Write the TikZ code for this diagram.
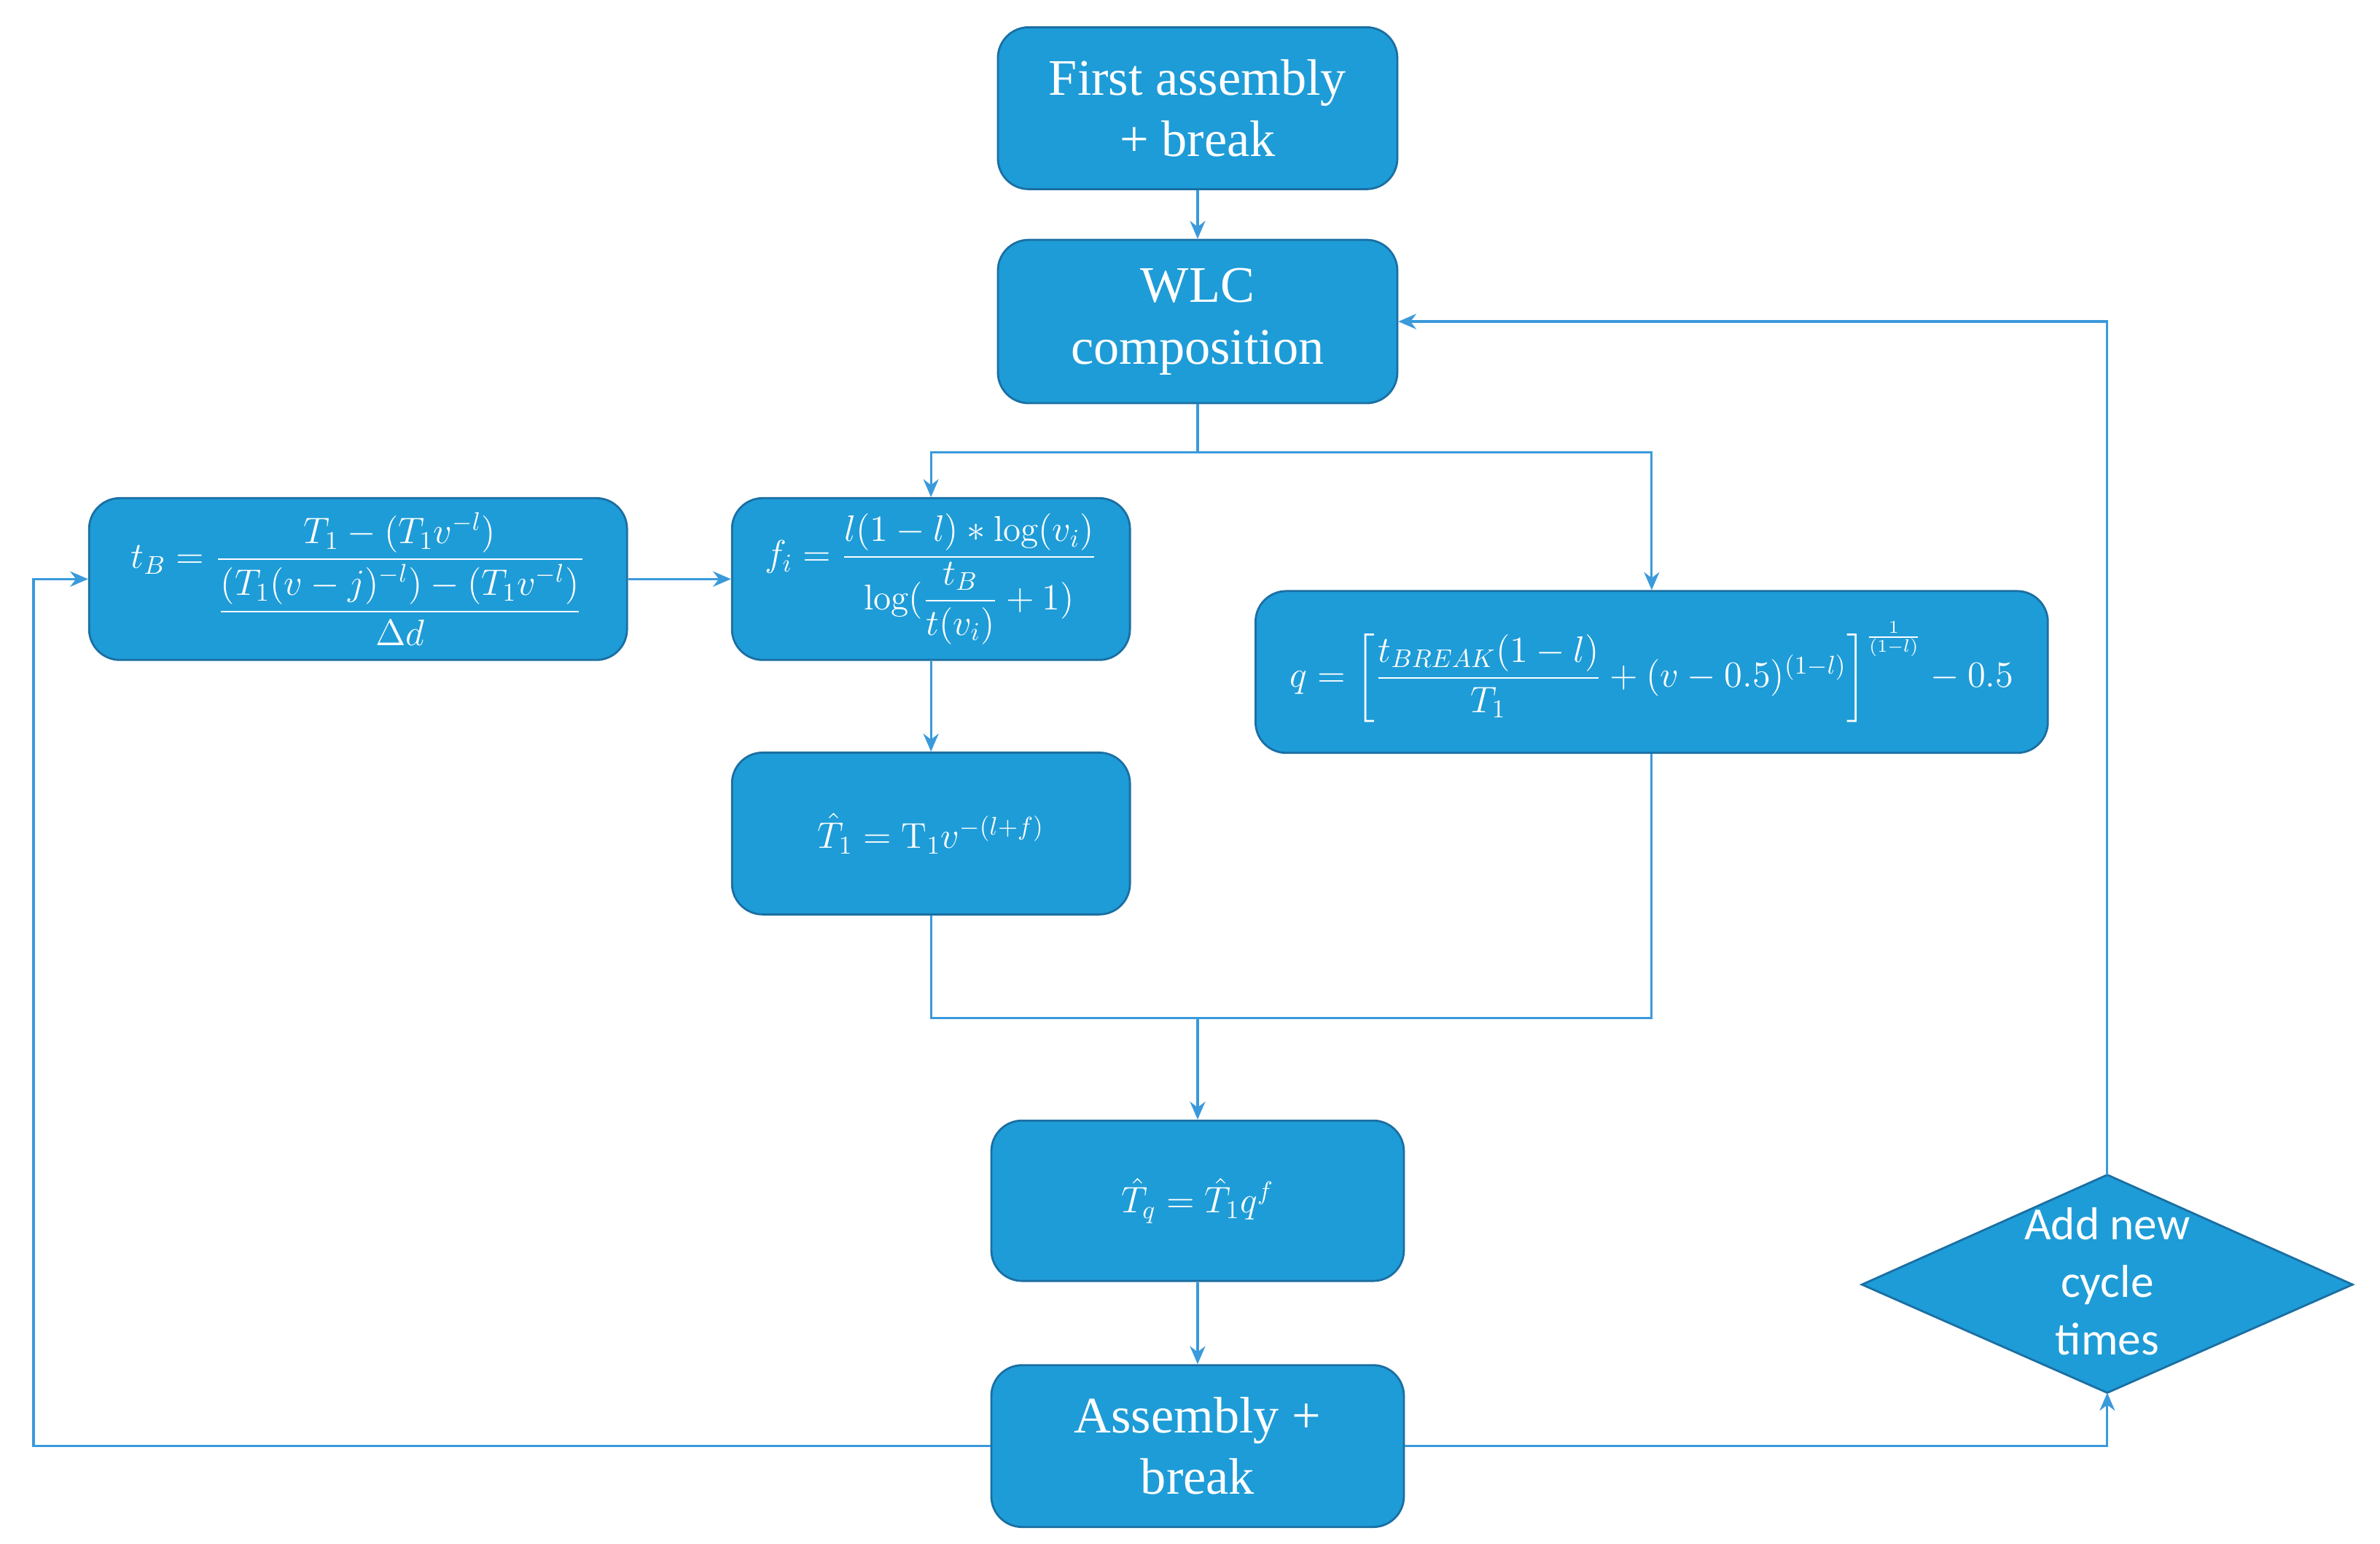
\documentclass[tikz,border=0pt]{standalone}
\usepackage{amsmath}
\usepackage{fontspec}
\newfontfamily\diafont{Carlito}
\newfontfamily\boxfont{Liberation Serif}
\usetikzlibrary{shapes.geometric,arrows.meta}
\definecolor{boxfill}{HTML}{1E9CD7}
\definecolor{boxdraw}{HTML}{1A6FA3}
\definecolor{linec}{HTML}{3A9ADB}
\begin{document}
\begin{tikzpicture}[x=0.0209cm,y=-0.0209cm,
  box/.style={draw=boxdraw,fill=boxfill,rounded corners=12pt,line width=0.8pt,text=white,align=center,inner sep=0pt},
  btxt/.style={font=\boxfont\fontsize{20}{24}\selectfont},
  mtxt/.style={font=\fontsize{14}{17}\selectfont},
  conn/.style={draw=linec,line width=0.9pt},
  arr/.style={conn,-{Stealth[length=7pt,width=6pt]}}]
\useasboundingbox (0,0) rectangle (1562,1013);
\node[box,btxt,minimum width=5.48cm,minimum height=2.22cm] (first) at (786,71) {First assembly\\+ break};
\node[box,btxt,minimum width=5.48cm,minimum height=2.24cm] (wlc) at (786,211) {WLC\\composition};
\node[box,mtxt,minimum width=7.38cm,minimum height=2.22cm] (tb) at (235,380) {$t_B=\dfrac{T_1-(T_1v^{-l})}{\dfrac{(T_1(v-j)^{-l})-(T_1v^{-l})}{\Delta d}}$};
\node[box,mtxt,minimum width=5.46cm,minimum height=2.22cm] (fi) at (611,380) {$f_i=\dfrac{l(1-l)*\log(v_i)}{\log(\dfrac{t_B}{t(v_i)}+1)}$};
\node[box,mtxt,minimum width=10.87cm,minimum height=2.22cm] (q) at (1084,441) {$q=\left[\dfrac{t_{BREAK}(1-l)}{T_1}+(v-0.5)^{(1-l)}\right]^{\frac{1}{(1-l)}}-0.5$};
\node[box,mtxt,minimum width=5.46cm,minimum height=2.22cm] (t1) at (611,547) {$\hat{T}_1=\mathrm{T}_1v^{-(l+f)}$};
\node[box,mtxt,minimum width=5.66cm,minimum height=2.2cm] (tq) at (786,788) {$\hat{T}_q=\hat{T}_1q^f$};
\node[box,btxt,minimum width=5.66cm,minimum height=2.22cm] (ab) at (786,949) {Assembly +\\break};
\coordinate (dn) at (1383,771);
\coordinate (ds) at (1383,914);
\draw[draw=boxdraw,fill=boxfill,line width=0.8pt] (dn) -- (1544,843) -- (ds) -- (1222,843) -- cycle;
\node[text=white,font=\diafont\fontsize{18}{22.5}\selectfont,align=center] (dia) at (1383,841) {Add new\\cycle\\times};
\coordinate (s1) at (786,297);
\coordinate (m1) at (786,668);
\coordinate (l1) at (22,949);
\coordinate (l2) at (22,380);
\draw[arr] (first) -- (wlc);
\draw[conn] (wlc.south) -- (s1);
\draw[arr] (s1) -| (fi.north);
\draw[arr] (s1) -| (q.north);
\draw[arr] (fi) -- (t1);
\draw[conn] (t1.south) |- (m1);
\draw[conn] (q.south) |- (m1);
\draw[arr] (m1) -- (tq.north);
\draw[arr] (tq) -- (ab);
\draw[arr] (ab.west) -- (l1) -- (l2) -- (tb.west);
\draw[arr] (tb) -- (fi);
\draw[arr] (ab.east) -| (ds);
\draw[arr] (dn) |- (wlc.east);
\end{tikzpicture}
\end{document}
